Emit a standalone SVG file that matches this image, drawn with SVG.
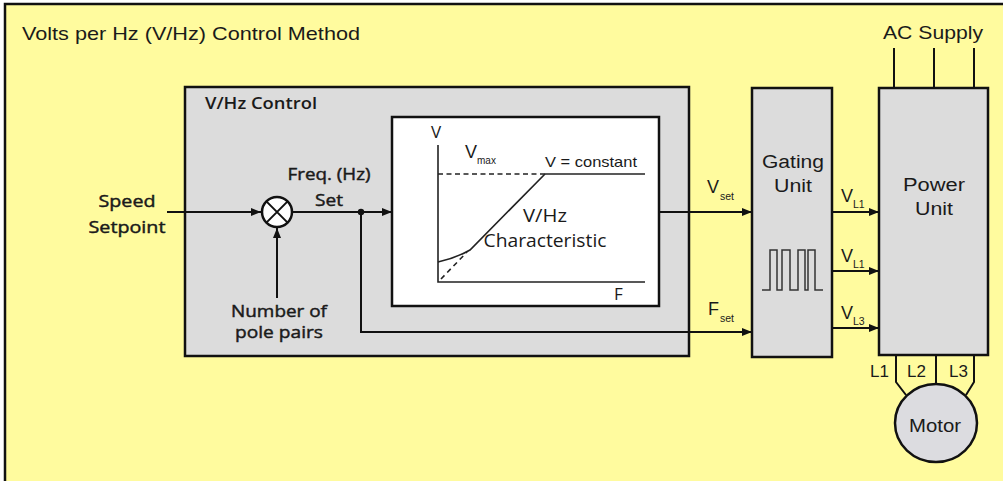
<svg xmlns="http://www.w3.org/2000/svg" width="1003" height="481" viewBox="0 0 1003 481">
<style>
.ar{font-family:"Liberation Sans",Arial,sans-serif;fill:#1a1a1a}
.my{font-family:"Open Sans","Noto Sans",sans-serif;fill:#1a1a1a}
.md{stroke:#1a1a1a;stroke-width:0.45}
.box{fill:#dcdcdc;stroke:#111;stroke-width:2.5}
.ln{fill:none;stroke:#111;stroke-width:2}
.gl{fill:none;stroke:#222;stroke-width:1.6}
</style>
<defs>
<marker id="ah" viewBox="0 0 10 8" refX="10" refY="4" markerWidth="10" markerHeight="8" markerUnits="userSpaceOnUse" orient="auto">
<path d="M0,0 L10,4 L0,8 Z" fill="#111"/>
</marker>
</defs>
<rect x="0" y="0" width="1003" height="481" fill="#ffffff"/>
<rect id="frame" x="5" y="4" width="1010" height="490" fill="#fffb9e" stroke="#111" stroke-width="2.5"/>
<text class="ar" x="22" y="40" font-size="18.5" textLength="338" lengthAdjust="spacingAndGlyphs">Volts per Hz (V/Hz) Control Method</text>

<g id="vhz-control">
<rect class="box" x="185" y="87" width="504" height="269"/>
<text class="my" x="205" y="109" font-size="16" font-weight="600" textLength="112" lengthAdjust="spacingAndGlyphs">V/Hz Control</text>
</g>

<g id="characteristic">
<rect x="392" y="117" width="267" height="189" fill="#ffffff" stroke="#111" stroke-width="2.5"/>
<path class="gl" d="M438,145 V282 H645"/>
<text class="my" x="431" y="138" font-size="17">V</text>
<text class="my" x="614" y="300" font-size="17">F</text>
<path class="gl" d="M438,174 H545" stroke-dasharray="5,3.5" stroke-width="2"/>
<path class="gl" d="M545,174 H645"/>
<path class="gl" d="M438,262 Q456,258 470,250 L545,174"/>
<path class="gl" d="M441,279 L467,252" stroke-dasharray="5,4" stroke-width="2.2"/>
<text class="ar" x="465" y="158" font-size="18">V</text>
<text class="ar" x="477" y="164" font-size="10">max</text>
<text class="ar" x="545" y="167" font-size="14.5" textLength="92" lengthAdjust="spacingAndGlyphs">V = constant</text>
<text class="my" x="545" y="222" font-size="18" text-anchor="middle" textLength="44" lengthAdjust="spacingAndGlyphs">V/Hz</text>
<text class="my" x="545" y="247" font-size="18" text-anchor="middle" textLength="123" lengthAdjust="spacingAndGlyphs">Characteristic</text>
</g>

<g id="speed-setpoint">
<text class="my md" x="127" y="207" font-size="17" text-anchor="middle" textLength="57" lengthAdjust="spacingAndGlyphs">Speed</text>
<text class="my md" x="127" y="233" font-size="17" text-anchor="middle" textLength="77" lengthAdjust="spacingAndGlyphs">Setpoint</text>
</g>

<g id="multiplier">
<circle cx="277" cy="212" r="15" fill="#ffffff" stroke="#111" stroke-width="2.5"/>
<path class="ln" d="M266.4,201.4 L287.6,222.6 M287.6,201.4 L266.4,222.6" stroke-width="2.2"/>
</g>

<g id="pole-pairs">
<text class="my md" x="279" y="317" font-size="17" text-anchor="middle" textLength="96" lengthAdjust="spacingAndGlyphs">Number of</text>
<text class="my md" x="279" y="338" font-size="17" text-anchor="middle" textLength="88" lengthAdjust="spacingAndGlyphs">pole pairs</text>
</g>

<g id="freq-set">
<text class="my md" x="329" y="180" font-size="17" text-anchor="middle" textLength="83" lengthAdjust="spacingAndGlyphs">Freq. (Hz)</text>
<text class="my md" x="329" y="206" font-size="17" text-anchor="middle" textLength="28" lengthAdjust="spacingAndGlyphs">Set</text>
</g>

<g id="gating-unit">
<rect class="box" x="752" y="88" width="80" height="269"/>
<text class="ar" x="793" y="168" font-size="18" text-anchor="middle" textLength="62" lengthAdjust="spacingAndGlyphs">Gating</text>
<text class="ar" x="793" y="192" font-size="18" text-anchor="middle" textLength="38" lengthAdjust="spacingAndGlyphs">Unit</text>
<path d="M762,290 H770 V250 H777 V290 H782 V250 H790 V290 H798 V250 H805 V290 H808 V250 H815 V290 H823" fill="none" stroke="#333" stroke-width="1.5"/>
</g>

<g id="power-unit">
<rect class="box" x="879" y="88" width="109" height="267"/>
<text class="ar" x="934" y="191" font-size="18" text-anchor="middle" textLength="62" lengthAdjust="spacingAndGlyphs">Power</text>
<text class="ar" x="934" y="215" font-size="18" text-anchor="middle" textLength="38" lengthAdjust="spacingAndGlyphs">Unit</text>
</g>

<g id="ac-supply">
<text class="ar" x="933" y="39" font-size="18" text-anchor="middle" textLength="100" lengthAdjust="spacingAndGlyphs">AC Supply</text>
</g>

<g id="motor">
<ellipse cx="936" cy="423" rx="41" ry="39" fill="#dcdce0" stroke="#111" stroke-width="2.5"/>
<text class="ar" x="935" y="432" font-size="18" text-anchor="middle" textLength="52" lengthAdjust="spacingAndGlyphs">Motor</text>
<text class="ar" x="870" y="377" font-size="17">L1</text>
<text class="ar" x="907" y="377" font-size="17">L2</text>
<text class="ar" x="949" y="377" font-size="17">L3</text>
</g>

<g id="connectors">
<path class="ln" d="M167,212 H261" marker-end="url(#ah)"/>
<path class="ln" d="M277,298 V228" marker-end="url(#ah)"/>
<path class="ln" d="M292,212 H392" marker-end="url(#ah)"/>
<circle cx="361" cy="212" r="3.2" fill="#111"/>
<path class="ln" d="M361,212 V332 H752" marker-end="url(#ah)"/>
<path class="ln" d="M659,212 H752" marker-end="url(#ah)"/>
<path class="ln" d="M832,212 H879" marker-end="url(#ah)"/>
<path class="ln" d="M832,271 H879" marker-end="url(#ah)"/>
<path class="ln" d="M832,328 H879" marker-end="url(#ah)"/>
<path class="ln" d="M894,48 V88 M934,48 V88 M974,48 V88"/>
<path class="ln" d="M896,355 V382 L906,395 M936,355 V384 M974,355 V382 L966,395"/>
<text class="ar" x="707" y="193" font-size="18">V</text>
<text class="ar" x="720" y="200" font-size="10.5">set</text>
<text class="ar" x="708" y="315" font-size="18">F</text>
<text class="ar" x="720" y="322" font-size="10.5">set</text>
<text class="ar" x="841" y="202" font-size="18">V</text>
<text class="ar" x="853" y="208" font-size="10.5">L1</text>
<text class="ar" x="841" y="262" font-size="18">V</text>
<text class="ar" x="853" y="268" font-size="10.5">L1</text>
<text class="ar" x="841" y="319" font-size="18">V</text>
<text class="ar" x="853" y="325" font-size="10.5">L3</text>
</g>
</svg>
